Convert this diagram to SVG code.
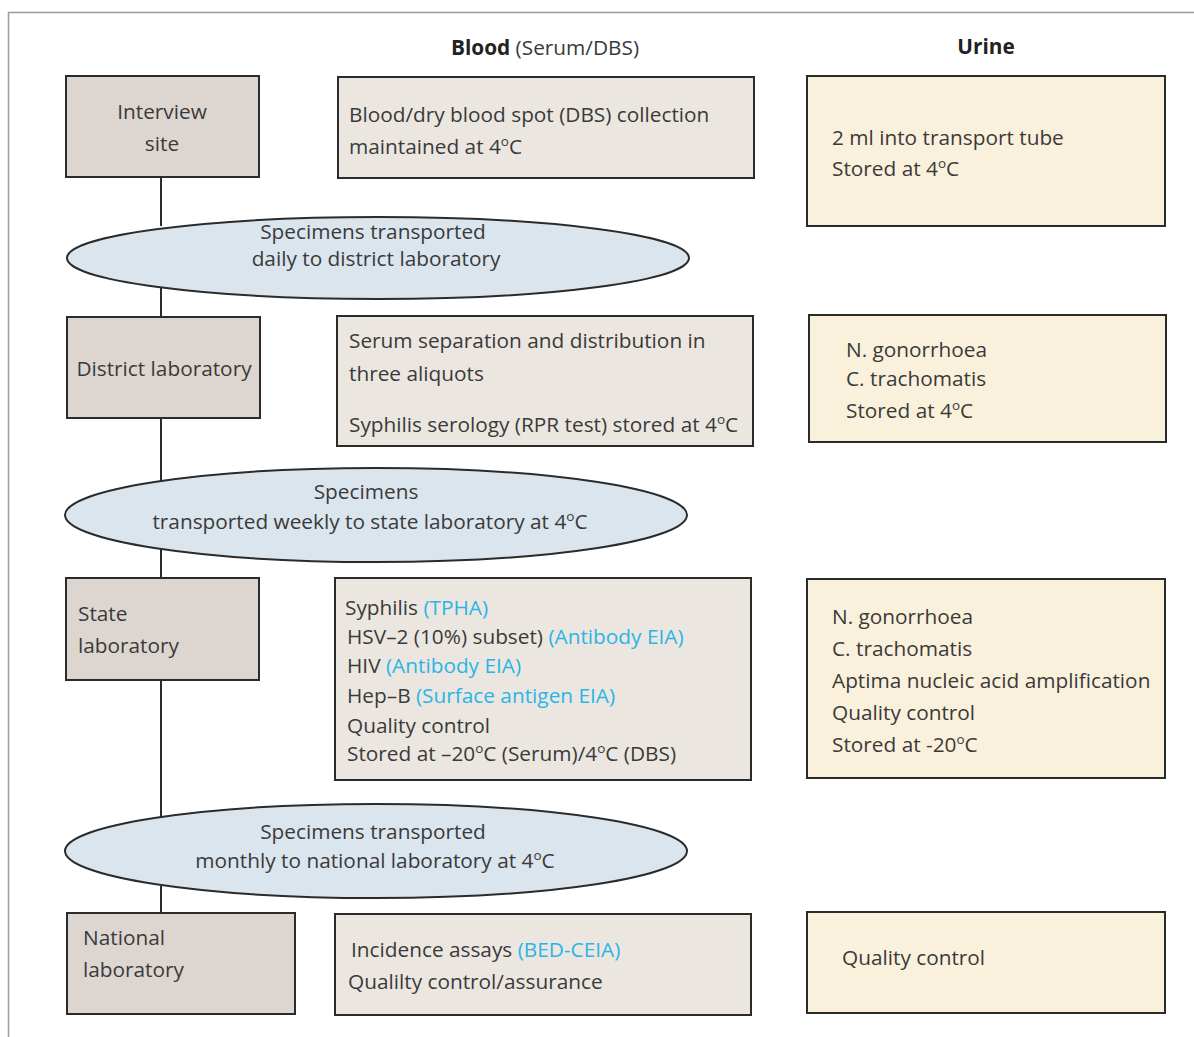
<svg xmlns="http://www.w3.org/2000/svg" width="1194" height="1037" viewBox="0 0 1194 1037">
  <style>
    text { font-family: "Open Sans", "Liberation Sans", sans-serif; font-size: 20.8px; fill: #3a3a3a; }
    .hd { font-weight: bold; fill: #222; }
    .blue { fill: #2bb4e6; }
    .sup { font-size: 13.5px; }
    .site { fill: #ddd6d0; stroke: #2b2b2b; stroke-width: 2; }
    .blood { fill: #ebe7e0; stroke: #2b2b2b; stroke-width: 2; }
    .urine { fill: #faf1dc; stroke: #2b2b2b; stroke-width: 2; }
    .trans { fill: #dbe5ee; stroke: #2b2b2b; stroke-width: 2; }
    .link { stroke: #2b2b2b; stroke-width: 2; fill: none; }
    .frame { stroke: #a59b92; stroke-width: 1.5; fill: none; }
  </style>
  <rect width="1194" height="1037" fill="#ffffff"/>
  <path class="frame" d="M8.5 1037 V12.5 H1194"/>

  <!-- column headings -->
  <text x="545" y="55" text-anchor="middle"><tspan class="hd">Blood</tspan> (Serum/DBS)</text>
  <text x="986" y="54" text-anchor="middle" class="hd">Urine</text>

  <!-- vertical flow line between stages -->
  <g id="connectors">
    <line class="link" x1="161" y1="177" x2="161" y2="226"/>
    <line class="link" x1="161" y1="288" x2="161" y2="317"/>
    <line class="link" x1="161" y1="418" x2="161" y2="482"/>
    <line class="link" x1="161" y1="548" x2="161" y2="578"/>
    <line class="link" x1="161" y1="680" x2="161" y2="817"/>
    <line class="link" x1="161" y1="886" x2="161" y2="913"/>
  </g>

  <!-- stage 1: interview site -->
  <g id="interview-site">
    <rect class="site" x="66" y="76" width="193" height="101"/>
    <text x="162" y="119" text-anchor="middle">Interview</text>
    <text x="162" y="151" text-anchor="middle">site</text>
  </g>
  <g id="blood-collection">
    <rect class="blood" x="338" y="77" width="416" height="101"/>
    <text x="349" y="122">Blood/dry blood spot (DBS) collection</text>
    <text x="349" y="154">maintained at 4<tspan class="sup" dy="-8">o</tspan><tspan dy="8">C</tspan></text>
  </g>
  <g id="urine-collection">
    <rect class="urine" x="807" y="76" width="358" height="150"/>
    <text x="832" y="145">2 ml into transport tube</text>
    <text x="832" y="176">Stored at 4<tspan class="sup" dy="-8">o</tspan><tspan dy="8">C</tspan></text>
  </g>

  <g id="transport-daily">
    <ellipse class="trans" cx="378" cy="258" rx="311" ry="41"/>
    <text x="373" y="239" text-anchor="middle">Specimens transported</text>
    <text x="376" y="266" text-anchor="middle">daily to district laboratory</text>
  </g>

  <!-- stage 2: district laboratory -->
  <g id="district-lab">
    <rect class="site" x="67" y="317" width="193" height="101"/>
    <text x="164" y="376" text-anchor="middle">District laboratory</text>
  </g>
  <g id="district-blood">
    <rect class="blood" x="337" y="316" width="416" height="130"/>
    <text x="349" y="348">Serum separation and distribution in</text>
    <text x="349" y="381">three aliquots</text>
    <text x="349" y="432">Syphilis serology (RPR test) stored at 4<tspan class="sup" dy="-8">o</tspan><tspan dy="8">C</tspan></text>
  </g>
  <g id="district-urine">
    <rect class="urine" x="809" y="315" width="357" height="127"/>
    <text x="846" y="357">N. gonorrhoea</text>
    <text x="846" y="386">C. trachomatis</text>
    <text x="846" y="418">Stored at 4<tspan class="sup" dy="-8">o</tspan><tspan dy="8">C</tspan></text>
  </g>

  <g id="transport-weekly">
    <ellipse class="trans" cx="376" cy="515" rx="311" ry="47"/>
    <text x="366" y="499" text-anchor="middle">Specimens</text>
    <text x="370" y="529" text-anchor="middle">transported weekly to state laboratory at 4<tspan class="sup" dy="-8">o</tspan><tspan dy="8">C</tspan></text>
  </g>

  <!-- stage 3: state laboratory -->
  <g id="state-lab">
    <rect class="site" x="66" y="578" width="193" height="102"/>
    <text x="78" y="621">State</text>
    <text x="78" y="653">laboratory</text>
  </g>
  <g id="state-blood">
    <rect class="blood" x="335" y="578" width="416" height="202"/>
    <text x="345" y="615">Syphilis <tspan class="blue">(TPHA)</tspan></text>
    <text x="347" y="644">HSV–2 (10%) subset) <tspan class="blue">(Antibody EIA)</tspan></text>
    <text x="347" y="673">HIV <tspan class="blue">(Antibody EIA)</tspan></text>
    <text x="347" y="703">Hep–B <tspan class="blue">(Surface antigen EIA)</tspan></text>
    <text x="347" y="733">Quality control</text>
    <text x="347" y="761">Stored at –20<tspan class="sup" dy="-8">o</tspan><tspan dy="8">C (Serum)/4</tspan><tspan class="sup" dy="-8">o</tspan><tspan dy="8">C (DBS)</tspan></text>
  </g>
  <g id="state-urine">
    <rect class="urine" x="807" y="579" width="358" height="199"/>
    <text x="832" y="624">N. gonorrhoea</text>
    <text x="832" y="656">C. trachomatis</text>
    <text x="832" y="688">Aptima nucleic acid amplification</text>
    <text x="832" y="720">Quality control</text>
    <text x="832" y="752">Stored at -20<tspan class="sup" dy="-8">o</tspan><tspan dy="8">C</tspan></text>
  </g>

  <g id="transport-monthly">
    <ellipse class="trans" cx="376" cy="851" rx="311" ry="47"/>
    <text x="373" y="839" text-anchor="middle">Specimens transported</text>
    <text x="375" y="868" text-anchor="middle">monthly to national laboratory at 4<tspan class="sup" dy="-8">o</tspan><tspan dy="8">C</tspan></text>
  </g>

  <!-- stage 4: national laboratory -->
  <g id="national-lab">
    <rect class="site" x="67" y="913" width="228" height="101"/>
    <text x="83" y="945">National</text>
    <text x="83" y="977">laboratory</text>
  </g>
  <g id="national-blood">
    <rect class="blood" x="335" y="914" width="416" height="101"/>
    <text x="351" y="957">Incidence assays <tspan class="blue">(BED-CEIA)</tspan></text>
    <text x="348" y="989">Qualilty control/assurance</text>
  </g>
  <g id="national-urine">
    <rect class="urine" x="807" y="912" width="358" height="101"/>
    <text x="842" y="965">Quality control</text>
  </g>
</svg>
